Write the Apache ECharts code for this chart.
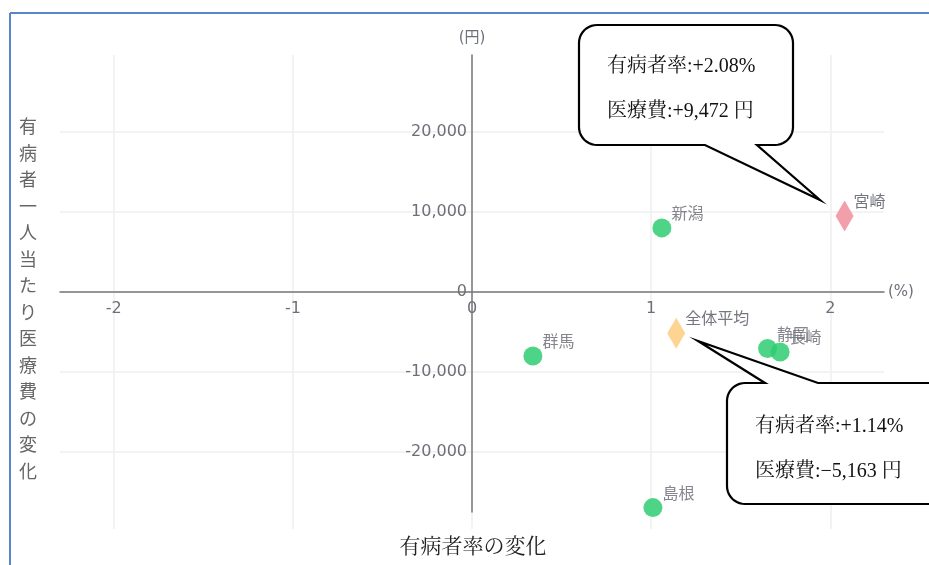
<!DOCTYPE html>
<html><head><meta charset="utf-8">
<script src="https://cdn.jsdelivr.net/npm/echarts@6/dist/echarts.min.js"></script>
<style>html,body{margin:0;padding:0;background:#fff}#c{width:929px;height:565px}</style>
</head><body><div id="c"></div>
<script>
// ---- data ----
const prefNames = ['新潟', '群馬', '島根', '静岡', '長崎'];
const prefRate  = [1.06, 0.34, 1.01, 1.65, 1.72];      // 有病者率の変化 (%)
const prefCost  = [8000, -8000, -26950, -7080, -7500]; // 医療費の変化 (円)
const focusName = ['宮崎'];
const focusRate = [2.08];
const focusCost = [9472];
const avgName = ['全体平均'];
const avgRate = [1.14];
const avgCost = [-5163];
const xRange = [-2.3, 2.3];
const yRange = [-27500, 29600];
const yTitle = '有病者一人当たり医療費の変化';
const xTitle = '有病者率の変化';
const xUnit = '(%)';
const yUnit = '(円)';

// ---- helpers ----
const fmtInt = v => Math.abs(v).toLocaleString('en-US');
const sign = v => (v >= 0 ? '+' : '−');
function calloutLines(rate, cost) {
  return ['有病者率:' + sign(rate) + Math.abs(rate).toFixed(2) + '%',
          '医療費:' + sign(cost) + fmtInt(cost) + ' 円'];
}
function bubblePts(x1, y1, x2, y2, r, tail) {
  const pts = [];
  const arc = (cx, cy, a0, a1) => {
    const n = 10;
    for (let i = 0; i <= n; i++) {
      const a = (a0 + (a1 - a0) * i / n) * Math.PI / 180;
      pts.push([cx + r * Math.cos(a), cy + r * Math.sin(a)]);
    }
  };
  pts.push([x1 + r, y1]);
  if (tail.edge === 'top') { pts.push([tail.a, y1], tail.tip, [tail.b, y1]); }
  pts.push([x2 - r, y1]);
  arc(x2 - r, y1 + r, -90, 0);
  arc(x2 - r, y2 - r, 0, 90);
  if (tail.edge === 'bottom') { pts.push([tail.b, y2], tail.tip, [tail.a, y2]); }
  arc(x1 + r, y2 - r, 90, 180);
  arc(x1 + r, y1 + r, 180, 270);
  return pts;
}

const labelColor = '#6e7079';
const sansFont = "'DejaVu Sans', 'Noto Sans CJK JP', sans-serif";
const cjkFont = "'Noto Sans CJK JP', sans-serif";
const serifFont = "'Liberation Serif', 'Noto Serif CJK JP', 'Noto Sans CJK JP', serif";

const pointLabel = {
  show: true, formatter: '{b}', position: 'right', distance: 0, offset: [0, -15],
  color: labelColor, fontSize: 16, fontFamily: cjkFont
};

const chart = echarts.init(document.getElementById('c'), null, { renderer: 'canvas' });

const c1 = calloutLines(focusRate[0], focusCost[0]);
const c2 = calloutLines(avgRate[0], avgCost[0]);

const option = {
  animation: false,
  backgroundColor: '#fff',
  textStyle: { fontFamily: sansFont },
  grid: [
    { left: 60, right: 45, top: 55, bottom: 53, containLabel: false, outerBoundsMode: 'none' },
    { left: 60, right: 45, top: 55, bottom: 36, containLabel: false, outerBoundsMode: 'none' }
  ],
  xAxis: [
    {
      gridIndex: 0, type: 'value', min: xRange[0], max: xRange[1], position: 'bottom', offset: 0,
      axisLine: { onZero: false, lineStyle: { color: '#777', width: 1.5 } },
      axisTick: { show: false },
      splitLine: { show: false },
      axisLabel: { margin: 9, fontSize: 16, color: labelColor, fontFamily: sansFont, showMinLabel: false, showMaxLabel: false },
      name: xUnit, nameLocation: 'end', nameGap: 4,
      nameTextStyle: { color: labelColor, fontSize: 15, fontFamily: sansFont, padding: [8, 0, 0, 0] }
    },
    {
      gridIndex: 1, type: 'value', min: xRange[0], max: xRange[1],
      axisLine: { show: false }, axisTick: { show: false }, axisLabel: { show: false },
      splitLine: { show: true, showMinLine: false, showMaxLine: false, lineStyle: { color: '#efefef', width: 1.5 } }
    }
  ],
  yAxis: [
    {
      gridIndex: 0, type: 'value', min: yRange[0], max: yRange[1], position: 'left', offset: 0,
      axisLine: { show: true, onZero: false, lineStyle: { color: '#777', width: 1.5 } },
      axisTick: { show: false },
      splitLine: { show: true, showMinLine: false, showMaxLine: false, lineStyle: { color: '#efefef', width: 1.5 } },
      axisLabel: { margin: 5, fontSize: 16, color: labelColor, fontFamily: sansFont, showMinLabel: false, showMaxLabel: false,
                   formatter: v => (v < 0 ? '-' : '') + fmtInt(v) },
      name: yUnit, nameLocation: 'end', nameGap: 9,
      nameTextStyle: { color: labelColor, fontSize: 15, fontFamily: sansFont }
    },
    { gridIndex: 1, type: 'value', show: false, min: yRange[0], max: yRange[1] }
  ],
  series: [
    {
      name: 'prefs', type: 'scatter', xAxisIndex: 0, yAxisIndex: 0,
      symbol: 'circle', symbolSize: 19,
      itemStyle: { color: '#2ecc71', opacity: 0.85 },
      label: pointLabel,
      data: prefNames.map((n, i) => ({ name: n, value: [prefRate[i], prefCost[i]] }))
    },
    {
      name: 'focus', type: 'scatter', xAxisIndex: 0, yAxisIndex: 0,
      symbol: 'diamond', symbolSize: [18, 31],
      itemStyle: { color: '#f09aa6', opacity: 0.95 },
      label: pointLabel,
      data: focusName.map((n, i) => ({ name: n, value: [focusRate[i], focusCost[i]] }))
    },
    {
      name: 'avg', type: 'scatter', xAxisIndex: 0, yAxisIndex: 0,
      symbol: 'diamond', symbolSize: [18, 31],
      itemStyle: { color: '#fdd28c', opacity: 0.95 },
      label: pointLabel,
      data: avgName.map((n, i) => ({ name: n, value: [avgRate[i], avgCost[i]] }))
    }
  ],
  graphic: [
    // frame
    { type: 'line', z: 100, shape: { x1: 10, y1: 13, x2: 929, y2: 13 }, style: { stroke: '#5a86c5', lineWidth: 2 } },
    { type: 'line', z: 100, shape: { x1: 10, y1: 13, x2: 10, y2: 565 }, style: { stroke: '#5a86c5', lineWidth: 2 } },
    // axis titles
    { type: 'text', z: 100, x: 28, y: 113,
      style: { text: yTitle.split('').join('\n'), fill: '#666', font: "18px " + cjkFont,
               lineHeight: 26.5, align: 'center', verticalAlign: 'top' } },
    { type: 'text', z: 100, x: 473, y: 547,
      style: { text: xTitle, fill: '#222', font: "21px " + serifFont, align: 'center', verticalAlign: 'middle' } },
    // callout 1 (宮崎)
    { type: 'polygon', z: 110,
      shape: { points: bubblePts(579, 25, 793, 145, 18, { edge: 'bottom', a: 705, b: 757, tip: [820, 200] }) },
      style: { fill: '#fff', stroke: '#000', lineWidth: 2.2 } },
    { type: 'text', z: 111, x: 607, y: 67,
      style: { text: c1[0], fill: '#111', font: "20px " + serifFont, align: 'left', verticalAlign: 'middle' } },
    { type: 'text', z: 111, x: 607, y: 112,
      style: { text: c1[1], fill: '#111', font: "20px " + serifFont, align: 'left', verticalAlign: 'middle' } },
    // callout 2 (全体平均)
    { type: 'polygon', z: 110,
      shape: { points: bubblePts(727, 383, 1000, 504, 18, { edge: 'top', a: 765, b: 818, tip: [698, 341] }) },
      style: { fill: '#fff', stroke: '#000', lineWidth: 2.2 } },
    { type: 'text', z: 111, x: 755, y: 427,
      style: { text: c2[0], fill: '#111', font: "20px " + serifFont, align: 'left', verticalAlign: 'middle' } },
    { type: 'text', z: 111, x: 755, y: 472,
      style: { text: c2[1], fill: '#111', font: "20px " + serifFont, align: 'left', verticalAlign: 'middle' } }
  ]
};
chart.setOption(option);

// place the axes so they cross at the origin (value 0 of the other axis)
function crossAtOrigin() {
  const gridRect = chart.getModel().getComponent('grid', 0).coordinateSystem.getRect();
  const xZeroPx = chart.convertToPixel({ xAxisIndex: 0 }, 0);
  const yZeroPx = chart.convertToPixel({ yAxisIndex: 0 }, 0);
  chart.setOption({
    xAxis: [{ offset: -(gridRect.y + gridRect.height - yZeroPx) }, {}],
    yAxis: [{ offset: -(xZeroPx - gridRect.x) }, {}]
  });
}
crossAtOrigin();
crossAtOrigin();
</script>
</body></html>
